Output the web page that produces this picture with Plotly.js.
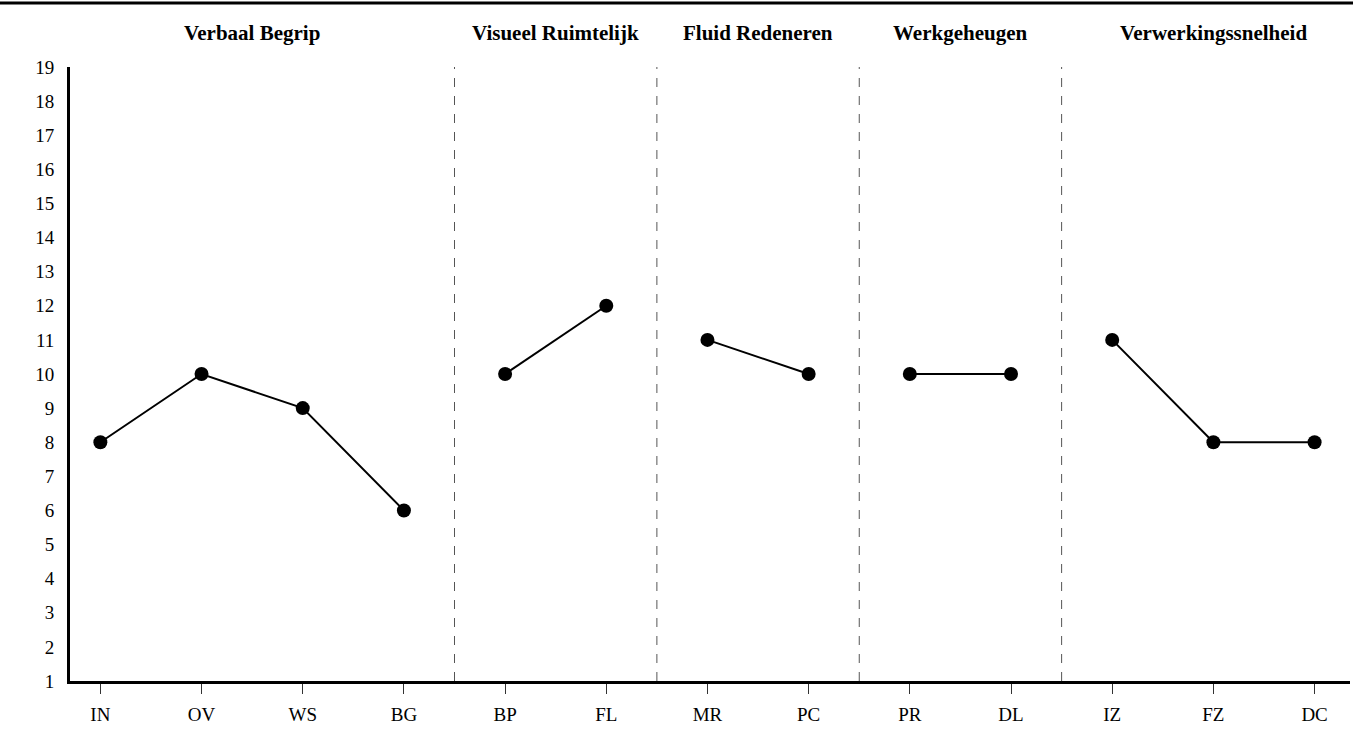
<!DOCTYPE html>
<html>
<head>
<meta charset="utf-8">
<script src="https://cdn.plot.ly/plotly-3.0.1.min.js"></script>
<style>html,body{margin:0;padding:0;background:#fff;}#chart{width:1353px;height:755px;}</style>
</head>
<body>
<div id="chart"></div>
<script>
const categories = ["IN","OV","WS","BG","BP","FL","MR","PC","PR","DL","IZ","FZ","DC"];
const scores = [8,10,9,6,10,12,11,10,10,10,11,8,8];
const groupOf = [0,0,0,0,1,1,2,2,3,3,4,4,4];
const groupNames = ["Verbaal Begrip","Visueel Ruimtelijk","Fluid Redeneren","Werkgeheugen","Verwerkingssnelheid"];
const yTicks = [1,2,3,4,5,6,7,8,9,10,11,12,13,14,15,16,17,18,19];

const FONT = "Liberation Serif, Times New Roman, serif";

const traces = groupNames.map((g, gi) => {
  const idx = categories.map((c, i) => i).filter(i => groupOf[i] === gi);
  return {
    type: "scatter", mode: "lines+markers",
    x: idx, y: idx.map(i => scores[i]),
    line: {color: "#000", width: 2},
    marker: {color: "#000", size: 14},
    showlegend: false, hoverinfo: "skip"
  };
});

const shapes = [];
const annotations = [];
groupNames.forEach((g, gi) => {
  const idx = categories.map((c, i) => i).filter(i => groupOf[i] === gi);
  const first = idx[0], last = idx[idx.length - 1];
  annotations.push({
    x: (first + last) / 2, xref: "x", y: 1.055, yref: "paper",
    text: "<b>" + g + "</b>", showarrow: false,
    font: {family: FONT, size: 21, color: "#000"},
    xanchor: "center", yanchor: "middle"
  });
  if (gi < groupNames.length - 1) {
    shapes.push({
      type: "line", xref: "x", yref: "y", x0: last + 0.5, x1: last + 0.5, y0: 1, y1: 19,
      line: {color: "#555", width: 1, dash: "dash"}
    });
  }
});
// top rule
shapes.push({type: "line", xref: "paper", yref: "paper",
  x0: -70/1280, x1: 1283/1280, y0: 1 + 64/614, y1: 1 + 64/614,
  line: {color: "#000", width: 3}});

const layout = {
  width: 1353, height: 755,
  margin: {l: 70, r: 3, t: 67, b: 74},
  paper_bgcolor: "#fff", plot_bgcolor: "#fff",
  font: {family: FONT, size: 19, color: "#000"},
  xaxis: {
    range: [-0.3, 12.35], tickmode: "array",
    tickvals: categories.map((c, i) => i), ticktext: categories,
    showgrid: false, zeroline: false,
    showline: true, linecolor: "#000", linewidth: 3,
    ticks: "outside", ticklen: 10, tickcolor: "#333", tickwidth: 1,
    ticklabelstandoff: 4,
    tickfont: {family: FONT, size: 19, color: "#000"},
    fixedrange: true
  },
  yaxis: {
    range: [1, 19], tickmode: "array", tickvals: yTicks, ticktext: yTicks.map(String),
    showgrid: false, zeroline: false,
    showline: true, linecolor: "#000", linewidth: 3,
    ticks: "", ticklabelstandoff: 9,
    tickfont: {family: FONT, size: 19, color: "#000"},
    fixedrange: true
  },
  shapes: shapes,
  annotations: annotations,
  showlegend: false
};

Plotly.newPlot("chart", traces, layout, {displayModeBar: false, staticPlot: true});
</script>
</body>
</html>
